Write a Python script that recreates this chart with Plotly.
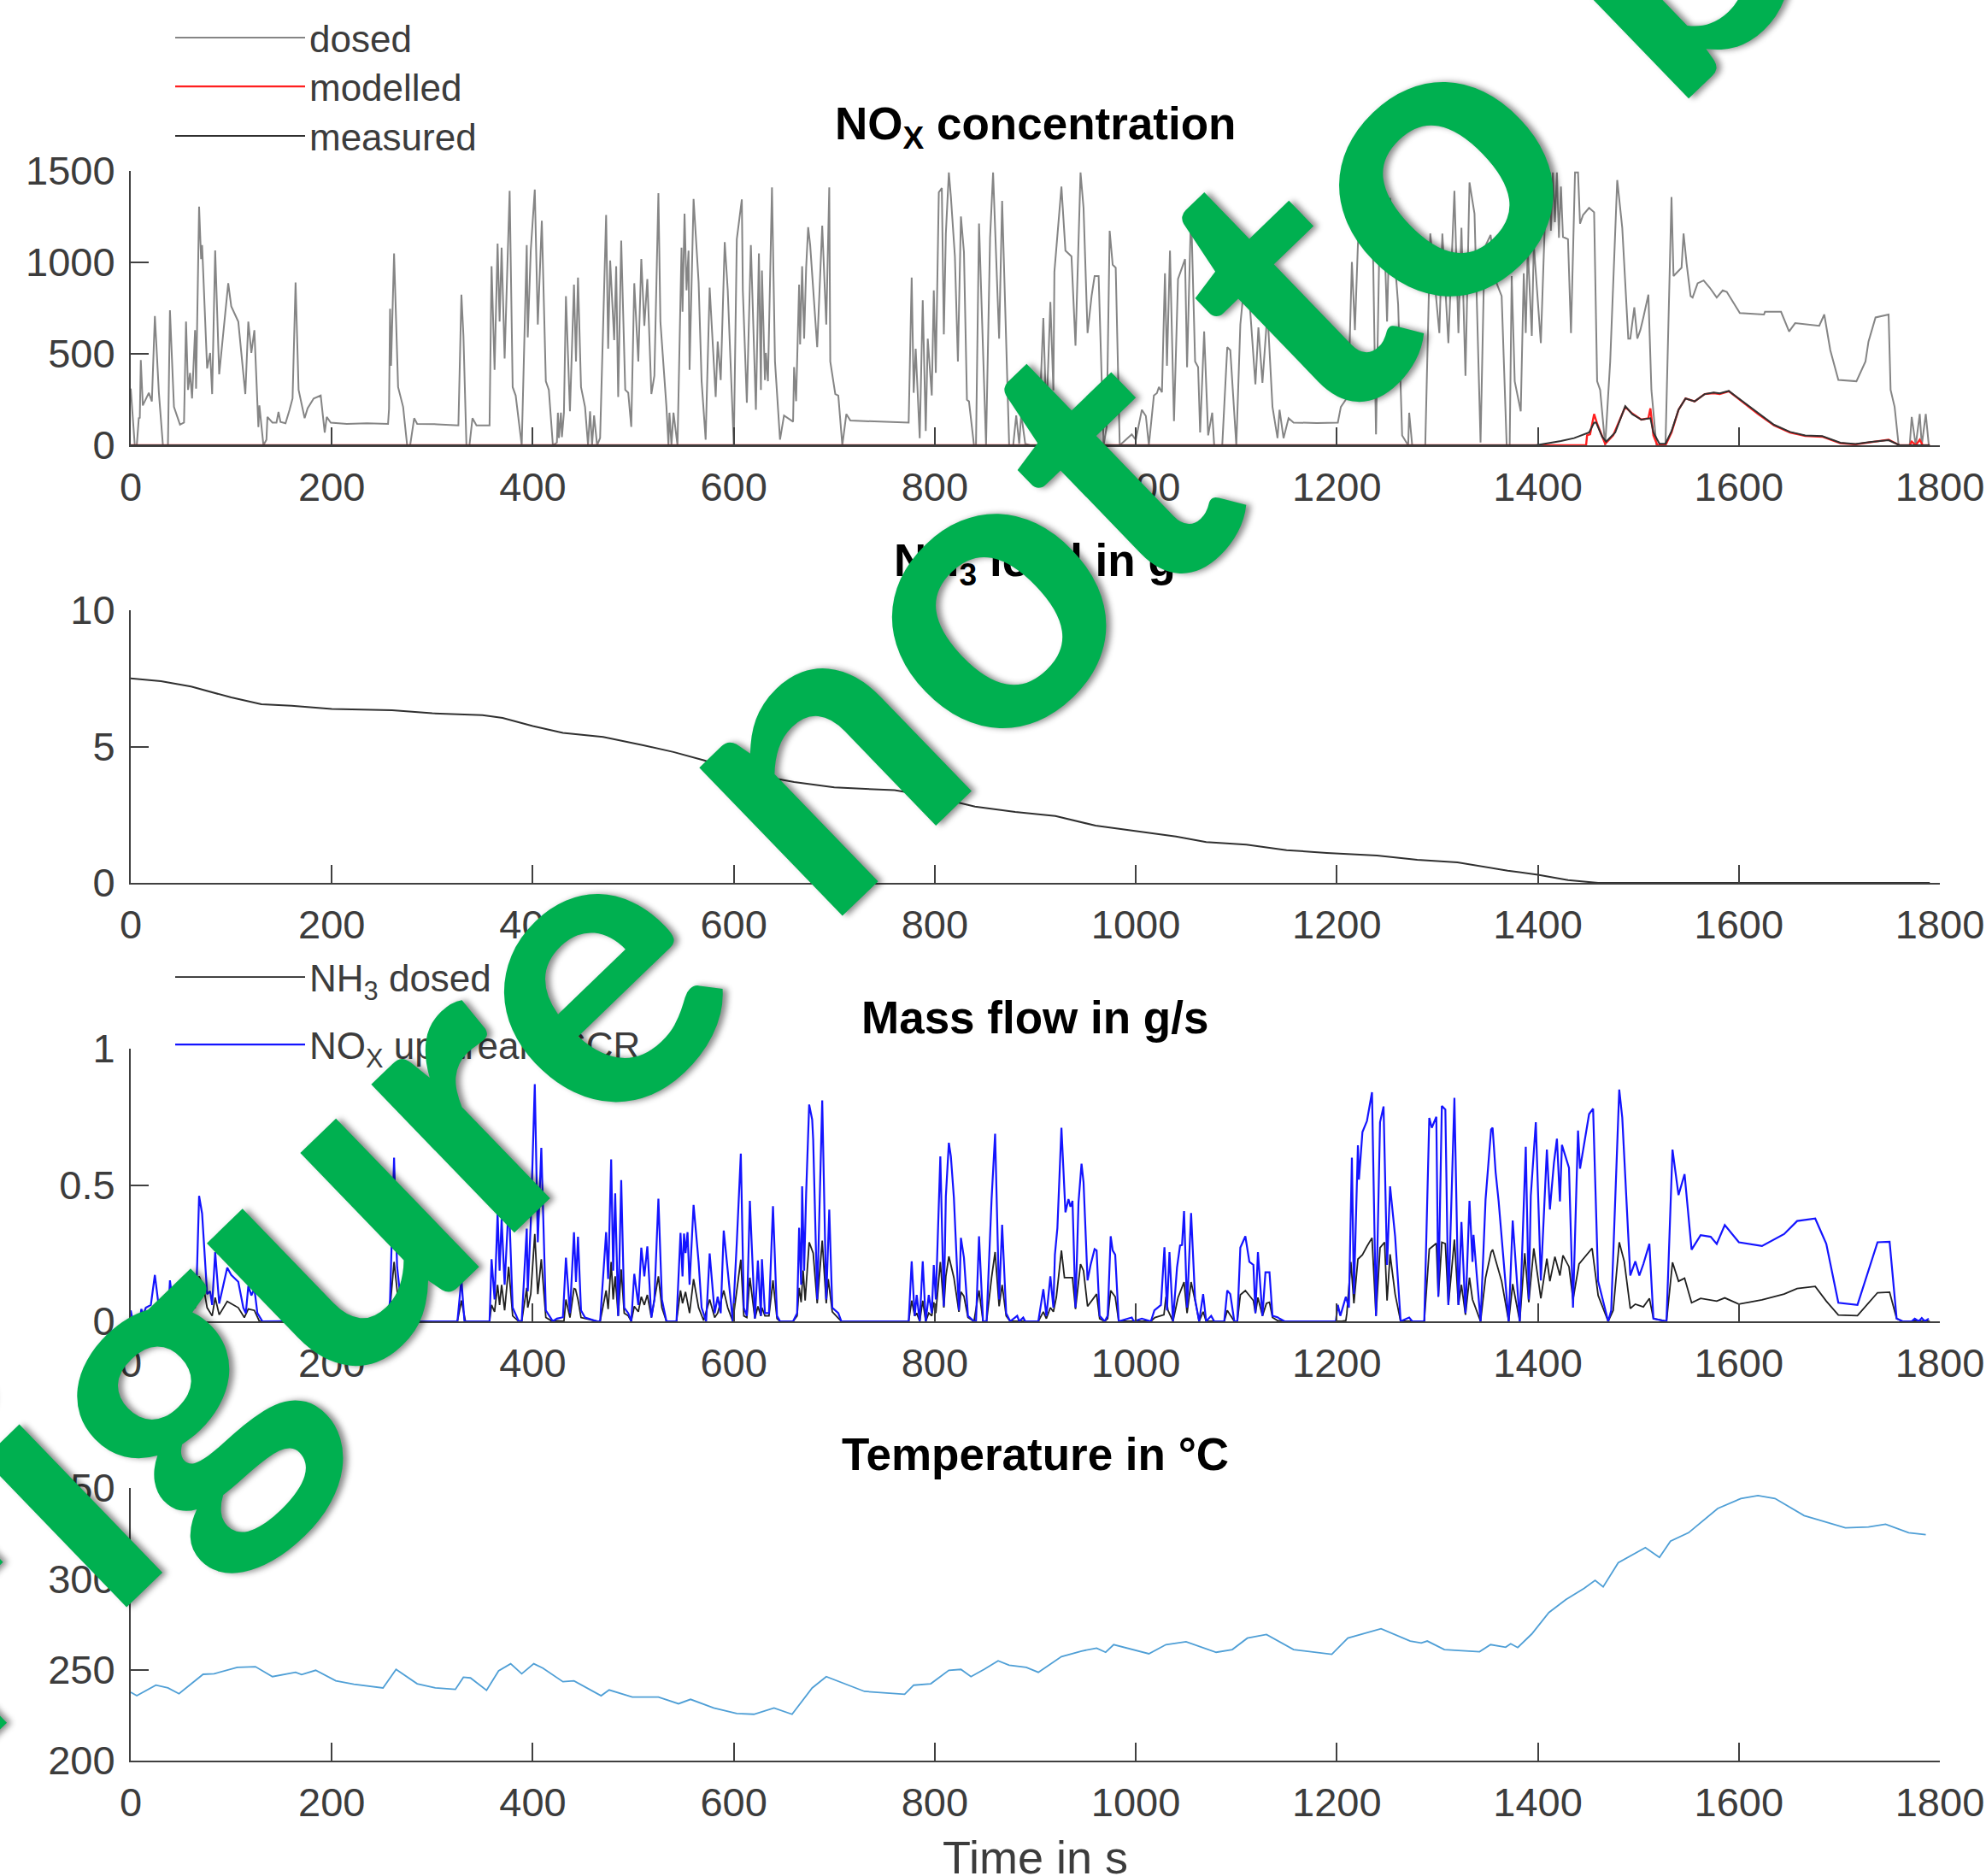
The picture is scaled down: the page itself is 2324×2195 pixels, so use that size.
import plotly.graph_objects as go

# ---------- tick labels / categories ----------
x_ticks = [0, 200, 400, 600, 800, 1000, 1200, 1400, 1600, 1800]
y1_ticks = [0, 500, 1000, 1500]
y2_ticks = [0, 5, 10]
y3_ticks = [0, 0.5, 1]
y3_labels = ["0", "0.5", "1"]
y4_ticks = [200, 250, 300, 350]

# ---------- NOx concentration: dosed (t, value) ----------
nox_dosed = [(0,310),(4,0),(6,0),(8,148),(9,150),(10,466),(12,218),(18,287),(21,240),(24,707),(28,287),(32,0),(37,0),(39,738),(43,210),(49,113),(53,124),(55,676),(57,303),(59,396),(61,256),(64,629),(65,310),(68,1305),(70,1018),(71,1095),(76,420),(79,505),(81,280),(84,1065),(88,388),(97,886),(100,760),(107,676),(114,280),(117,676),(120,505),(123,629),(127,100),(128,218),(132,0),(135,30),(136,155),(141,124),(145,124),(147,182),(149,128),(154,120),(158,194),(161,256),(164,890),(167,303),(173,148),(176,202),(182,256),(189,272),(193,70),(195,155),(199,124),(215,117),(235,120),(256,117),(257,200),(258,746),(259,435),(262,1049),(266,318),(271,210),(275,0),(278,0),(282,148),(285,117),(305,115),(326,109),(329,823),(331,600),(334,0),(337,0),(340,148),(344,109),(357,109),(359,979),(362,412),(365,1103),(367,676),(369,1080),(372,474),(375,1095),(377,1391),(380,318),(383,272),(389,0),(394,1095),(395,590),(398,1064),(402,1398),(405,660),(409,1228),(413,350),(416,303),(420,0),(424,15),(425,178),(426,40),(428,178),(429,45),(431,178),(433,815),(437,186),(441,878),(443,458),(445,917),(448,318),(452,210),(455,0),(457,186),(459,0),(461,163),(464,0),(467,40),(473,1259),(475,528),(477,1010),(481,575),(483,979),(485,264),(488,1119),(492,303),(495,287),(498,101),(501,886),(505,458),(508,1018),(511,653),(514,909),(518,280),(521,380),(525,1378),(527,676),(533,210),(535,0),(536,178),(538,0),(540,178),(544,0),(548,1080),(549,730),(551,1266),(553,847),(555,1064),(556,412),(560,1347),(565,893),(568,350),(572,31),(576,862),(582,264),(584,567),(587,357),(591,1111),(594,847),(600,0),(603,1127),(608,1344),(609,847),(613,233),(617,1095),(622,194),(625,1049),(627,303),(628,956),(631,357),(632,505),(634,350),(638,1410),(641,458),(646,31),(650,163),(659,129),(660,427),(662,241),(665,878),(666,552),(668,979),(670,583),(672,971),(674,1192),(676,1095),(683,536),(688,1201),(692,660),(695,1410),(696,458),(701,280),(704,272),(708,0),(712,171),(716,135),(745,128),(774,124),(777,917),(779,287),(781,528),(785,39),(788,793),(791,78),(793,583),(797,272),(799,847),(801,396),(804,1383),(807,1406),(809,606),(811,1158),(814,1492),(816,1360),(820,1033),(823,458),(826,1251),(829,1057),(832,249),(834,240),(839,0),(841,0),(844,1212),(851,0),(855,1134),(858,1492),(864,583),(867,1336),(874,0),(878,0),(881,163),(884,8),(886,171),(890,8),(895,0),(903,0),(908,696),(911,150),(915,784),(918,300),(919,948),(926,1414),(930,1064),(936,1033),(940,544),(945,1492),(948,1298),(952,614),(956,816),(959,925),(963,925),(968,0),(971,100),(974,1173),(977,987),(980,971),(984,0),(996,60),(1000,30),(1006,194),(1010,160),(1013,0),(1018,272),(1021,285),(1023,319),(1026,290),(1029,940),(1031,435),(1034,1064),(1038,132),(1042,909),(1049,1018),(1051,427),(1055,1290),(1059,458),(1062,427),(1064,70),(1068,622),(1072,54),(1076,178),(1078,0),(1086,0),(1091,536),(1094,520),(1100,0),(1104,660),(1110,1000),(1113,800),(1119,333),(1122,645),(1126,342),(1131,730),(1136,210),(1141,39),(1143,194),(1147,39),(1152,148),(1157,124),(1180,122),(1201,124),(1204,210),(1209,250),(1212,400),(1215,1002),(1218,630),(1221,1100),(1225,1300),(1230,1340),(1235,1400),(1239,60),(1243,1300),(1246,1380),(1250,676),(1253,1352),(1261,770),(1265,54),(1271,0),(1272,178),(1275,0),(1288,0),(1293,1158),(1302,614),(1305,1158),(1311,559),(1317,1391),(1321,614),(1324,1189),(1328,380),(1332,1437),(1337,1266),(1343,15),(1347,1080),(1353,1150),(1358,900),(1364,816),(1369,0),(1372,0),(1374,925),(1377,350),(1383,186),(1386,940),(1388,614),(1390,1080),(1394,598),(1396,1095),(1403,559),(1407,1220),(1409,1492),(1410,1266),(1412,1492),(1413,1173),(1415,1492),(1417,1220),(1419,1492),(1421,1134),(1423,1414),(1425,1139),(1430,1127),(1433,614),(1437,1492),(1440,1492),(1442,1212),(1445,1259),(1451,1298),(1456,1274),(1459,350),(1462,303),(1467,0),(1472,458),(1479,1450),(1484,1189),(1490,583),(1492,583),(1496,754),(1499,583),(1502,630),(1505,699),(1510,824),(1513,303),(1518,0),(1527,0),(1533,1357),(1535,925),(1543,971),(1545,1158),(1548,995),(1552,816),(1554,808),(1559,886),(1565,901),(1571,862),(1578,808),(1584,847),(1588,839),(1601,723),(1625,715),(1626,730),(1642,730),(1650,622),(1656,668),(1680,653),(1685,715),(1691,520),(1699,357),(1717,350),(1726,458),(1729,567),(1736,699),(1749,715),(1751,303),(1755,210),(1759,0),(1770,0),(1772,155),(1776,0),(1780,171),(1782,0),(1786,171),(1789,0)]

nox_modelled = [(0,0),(1448,0),(1449,54),(1452,60),(1456,171),(1459,118),(1467,8),(1475,54),(1487,210),(1493,178),(1503,140),(1510,148),(1512,202),(1515,54),(1519,0),(1527,0),(1533,70),(1540,194),(1547,256),(1556,240),(1566,280),(1575,285),(1581,280),(1590,295),(1601,249),(1619,171),(1635,109),(1651,70),(1666,51),(1683,47),(1701,11),(1716,5),(1730,16),(1749,31),(1757,8),(1760,0),(1770,0),(1772,20),(1776,0),(1780,30),(1783,0),(1790,0)]

nox_measured = [(0,0),(1398,0),(1423,23),(1436,39),(1451,70),(1456,124),(1458,124),(1464,47),(1468,20),(1477,70),(1487,214),(1494,170),(1503,140),(1512,148),(1515,70),(1521,8),(1527,8),(1533,77),(1540,194),(1547,256),(1556,240),(1566,280),(1575,288),(1581,284),(1590,297),(1601,252),(1619,175),(1635,112),(1651,73),(1666,54),(1683,50),(1701,14),(1716,7),(1730,18),(1749,28),(1757,6),(1760,0),(1790,0)]

# ---------- NH3 load ----------
nh3_load = [(0,7.5),(30,7.4),(60,7.2),(100,6.8),(130,6.55),(160,6.5),(200,6.38),(260,6.33),(300,6.22),(350,6.15),(370,6.05),(400,5.75),(430,5.5),(470,5.35),(510,5.05),(540,4.8),(570,4.5),(600,4.15),(630,3.9),(660,3.7),(700,3.5),(760,3.4),(800,3.15),(840,2.8),(880,2.6),(920,2.45),(960,2.1),(1000,1.9),(1040,1.7),(1070,1.5),(1110,1.4),(1150,1.2),(1190,1.1),(1240,1.0),(1280,0.85),(1320,0.75),(1370,0.45),(1400,0.3),(1430,0.1),(1460,0),(1790,0)]

# ---------- Mass flow ----------
nox_upstream = [(0,0.04),(2,0),(9,0),(10.5,0.045),(12.5,0.025),(15,0.05),(20,0.06),(24,0.17),(28,0.05),(32,0),(37,0),(39,0.15),(41,0.09),(45,0.04),(50,0.03),(55,0.13),(58,0.06),(61,0.05),(64,0.13),(65,0.07),(68,0.46),(71,0.395),(76,0.10),(79,0.11),(81,0.06),(84,0.254),(88,0.065),(96,0.197),(100,0.17),(107,0.145),(112,0.05),(114.5,0.03),(117,0.13),(120,0.095),(123,0.12),(126,0.03),(131,0),(200,0.002),(256,0),(258,0.08),(262,0.6),(265,0.2),(270,0.03),(275,0),(325,0),(329,0.155),(332,0),(357,0),(359,0.228),(362,0.08),(365,0.395),(367,0.186),(369,0.375),(372,0.134),(375,0.354),(377,0.36),(380,0.05),(386,0),(389,0),(394,0.34),(395,0.11),(398,0.36),(402,0.87),(405,0.29),(408.5,0.636),(413,0.04),(416.5,0.02),(420,0),(424,0.01),(430,0.015),(433,0.233),(437,0.03),(441,0.327),(443,0.144),(445,0.31),(448,0.04),(452,0.014),(464,0),(467,0),(473,0.327),(475,0.155),(478,0.594),(480,0.186),(482,0.469),(485,0.02),(488,0.518),(491,0.05),(495,0.03),(498,0),(501,0.174),(505,0.06),(508,0.27),(511,0.165),(514,0.275),(518,0.014),(521,0.08),(525,0.45),(528.5,0.08),(533,0),(543,0),(547,0.324),(549,0.165),(550.5,0.322),(552,0.25),(554,0.327),(556,0.134),(560,0.427),(565,0.218),(568,0.05),(572.5,0),(576,0.249),(581,0.03),(584,0.09),(587,0.03),(590,0.333),(594,0.186),(599,0),(603,0.29),(607,0.615),(610,0.05),(613,0.02),(616,0.442),(621,0.01),(624,0.223),(627,0.02),(628,0.228),(631,0.03),(635,0.03),(639,0.422),(643,0.02),(646,0),(659,0),(663,0.03),(665,0.343),(667,0.134),(668,0.495),(670,0.186),(672,0.469),(675,0.795),(678,0.74),(679,0.667),(683,0.08),(688,0.81),(692,0.08),(695,0.41),(698,0.05),(704,0.03),(707,0),(774,0),(777,0.22),(780,0.02),(782,0.097),(785,0),(788,0.22),(791,0),(794,0.097),(797,0.03),(799,0.207),(801,0.08),(805.5,0.605),(809,0.055),(811,0.458),(814,0.655),(816,0.605),(819,0.453),(824,0.04),(826,0.306),(829,0.233),(833,0.02),(839,0),(841,0),(844,0.312),(848,0),(851.5,0),(856.5,0.448),(860,0.688),(864,0.08),(867,0.354),(871,0.03),(875,0),(882,0.02),(884,0),(888,0.014),(890,0),(903,0),(908,0.118),(911,0.02),(915,0.165),(918,0.05),(919.5,0.244),(922,0.343),(926,0.71),(930,0.40),(933,0.448),(935,0.42),(937,0.442),(940,0.05),(943,0.437),(946,0.578),(948,0.51),(952,0.15),(955,0.207),(959,0.265),(961,0.26),(964,0.02),(969,0),(972,0.02),(975,0.312),(977,0.26),(979.5,0.244),(983,0),(996,0.014),(998,0),(1006,0.01),(1015,0),(1018.5,0.04),(1025,0.06),(1028.5,0.272),(1031,0.04),(1033.5,0.254),(1037,0),(1041,0.197),(1044,0.278),(1046,0.28),(1048,0.404),(1051,0.05),(1055,0.397),(1059,0.08),(1063,0),(1067,0.10),(1070,0),(1075,0.02),(1078,0),(1088,0),(1091,0.113),(1094,0.10),(1098,0),(1101,0),(1104,0.27),(1109,0.312),(1113,0.218),(1117,0.207),(1119,0.03),(1121.5,0.254),(1126,0.02),(1129,0.18),(1133,0.18),(1136,0.02),(1141,0.015),(1143,0.01),(1148,0),(1199,0),(1201,0.06),(1203.5,0.02),(1209,0.09),(1212,0.05),(1215,0.6),(1217,0.10),(1221,0.646),(1222,0.52),(1225.5,0.694),(1230,0.735),(1235,0.84),(1239,0.02),(1243,0.73),(1246.5,0.788),(1250,0.207),(1253,0.495),(1258,0.312),(1263.5,0),(1272,0.014),(1275,0),(1287,0),(1292,0.746),(1294.5,0.71),(1299,0.75),(1301,0.09),(1304.5,0.79),(1308,0.777),(1311,0.06),(1317,0.82),(1321,0.06),(1324,0.364),(1328,0.03),(1332,0.442),(1335,0.218),(1336,0.317),(1343,0),(1348,0.448),(1353.5,0.704),(1355,0.71),(1358,0.547),(1361,0.44),(1371,0),(1375,0.37),(1382,0),(1388,0.64),(1391,0.08),(1393,0.46),(1398,0.73),(1403,0.15),(1409,0.63),(1412,0.41),(1416,0.58),(1419,0.67),(1422,0.44),(1424,0.647),(1431,0.563),(1435,0.05),(1440,0.70),(1442,0.56),(1451,0.76),(1455,0.78),(1460,0.147),(1470,0),(1473,0.04),(1481,0.85),(1484,0.747),(1492,0.168),(1497,0.22),(1501,0.168),(1505,0.21),(1511,0.284),(1515,0.01),(1528,0),(1534,0.63),(1540,0.463),(1546,0.54),(1553,0.263),(1562,0.316),(1572,0.31),(1578,0.284),(1586,0.353),(1600,0.29),(1623,0.276),(1645,0.32),(1658,0.368),(1676,0.377),(1687,0.284),(1699,0.068),(1718,0.06),(1738,0.29),(1750,0.292),(1757,0.01),(1763,0),(1772,0),(1775,0.01),(1779,0),(1782,0.012),(1785,0),(1789,0.01)]

nh3_dosed = [(0,0),(39,0),(41,0.04),(50,0.02),(55,0.05),(64,0.05),(68,0.165),(72,0.134),(76,0.05),(81,0.02),(84,0.087),(88,0.024),(96,0.073),(107,0.05),(113,0.014),(117,0.045),(123,0.04),(128,0),(256,0),(258,0.05),(262,0.218),(266,0.08),(275,0),(325,0),(329,0.076),(333,0),(357,0),(359,0.06),(362,0.035),(365,0.134),(367,0.06),(369,0.134),(372,0.04),(376,0.20),(380,0.02),(385,0.003),(389,0),(394,0.123),(395,0.05),(398,0.10),(402,0.32),(405,0.10),(408.5,0.228),(413,0.014),(418,0.003),(431,0),(433,0.08),(437,0.014),(441,0.12),(442.5,0.118),(445,0.08),(448,0.014),(464,0),(467,0),(473,0.113),(475,0.045),(478,0.218),(480,0.08),(482,0.165),(485,0.02),(488,0.19),(491,0.03),(495,0.02),(498,0),(501,0.055),(505,0.035),(508,0.09),(511,0.06),(514,0.097),(518,0.014),(525,0.165),(528.5,0.05),(533,0),(543,0),(547,0.113),(549,0.066),(552,0.108),(556,0.03),(560,0.155),(565,0.05),(570,0.003),(576,0.08),(581,0.014),(584,0.03),(590,0.113),(594,0.05),(599,0),(603,0.12),(607,0.226),(610,0.02),(613,0.014),(616,0.16),(621,0.01),(624,0.055),(627,0.02),(628,0.05),(631,0.02),(635,0.02),(639,0.15),(643,0.01),(646,0),(659,0),(663,0.02),(665,0.123),(667,0.07),(669,0.186),(671,0.076),(675,0.29),(679,0.25),(683,0.066),(688,0.296),(692,0.066),(694,0.155),(698,0.035),(704,0.01),(707,0),(774,0),(777,0.076),(780,0.02),(782,0.03),(785,0),(788,0.076),(791,0),(794,0.03),(797,0.02),(799,0.07),(801,0.03),(805.5,0.218),(809,0.05),(811,0.165),(814,0.238),(819,0.16),(824,0.035),(826,0.108),(829,0.092),(833,0.014),(839,0),(844,0.113),(848,0),(851.5,0),(856.5,0.16),(860,0.254),(864,0.055),(867,0.134),(871,0.02),(875,0),(903,0),(908,0.035),(911,0.01),(915,0.05),(918,0.035),(921,0.09),(926,0.26),(929,0.16),(937,0.16),(940,0.045),(945,0.21),(948,0.185),(952,0.055),(961,0.10),(964,0.01),(969,0),(972,0.01),(975,0.113),(979.5,0.09),(983,0),(1015,0),(1019,0.014),(1028,0.024),(1030,0.09),(1032,0.04),(1037,0),(1042,0.087),(1048,0.144),(1051,0.03),(1055,0.144),(1059,0.076),(1063,0),(1067,0.035),(1070,0),(1088,0),(1091,0.04),(1098,0),(1101,0),(1104,0.097),(1109,0.113),(1117,0.076),(1119,0.03),(1121.5,0.087),(1126,0.02),(1130,0.066),(1133,0.07),(1136,0.014),(1141,0.003),(1148,0),(1205,0),(1209,0.003),(1210,0.03),(1214,0.218),(1217,0.066),(1221,0.228),(1225.5,0.244),(1230,0.275),(1235,0.306),(1239,0.02),(1243,0.27),(1247.5,0.29),(1250,0.076),(1253,0.246),(1258,0.10),(1263.5,0),(1287,0),(1292,0.265),(1299,0.286),(1301,0.09),(1304.5,0.29),(1308,0.285),(1311,0.06),(1317,0.30),(1321,0.06),(1324,0.134),(1328,0.024),(1332,0.16),(1335,0.08),(1343,0),(1348,0.16),(1353.5,0.254),(1355,0.263),(1364,0.147),(1371,0),(1375,0.137),(1382,0),(1387,0.25),(1391,0.07),(1396,0.268),(1403,0.084),(1409,0.23),(1412,0.147),(1417,0.237),(1422,0.168),(1425,0.242),(1431,0.2),(1435,0.08),(1441,0.21),(1454,0.268),(1460,0.095),(1470,0),(1475,0.04),(1481,0.29),(1486,0.22),(1492,0.047),(1497,0.063),(1505,0.053),(1511,0.084),(1515,0.01),(1528,0),(1534,0.216),(1540,0.147),(1546,0.158),(1553,0.068),(1562,0.084),(1578,0.074),(1586,0.086),(1600,0.063),(1623,0.079),(1645,0.10),(1658,0.12),(1676,0.128),(1687,0.074),(1699,0.023),(1718,0.021),(1738,0.105),(1750,0.107),(1757,0.01),(1763,0),(1790,0)]

# ---------- Temperature ----------
temperature = [(0,237.6),(6,235.7),(25,241.5),(37,240),(48,236.8),(72,247.5),(83,247.8),(106,251.3),(124,251.7),(141,246.2),(164,248.6),(170,247.3),(184,249.7),(204,243.9),(222,242),(251,240),(264,250.2),(285,242.3),(303,240),(323,239.2),(331,245.9),(338,245.5),(354,238.7),(366,249.4),(378,253.3),(389,247.8),(401,253.3),(410,250.9),(430,243.4),(441,243.9),(468,235.7),(476,238.9),(499,235),(525,235),(545,231.3),(557,233.7),(580,229),(603,225.9),(620,225.5),(640,229),(658,225.5),(678,240),(692,246.2),(730,238.1),(770,236.5),(779,241.5),(796,242.3),(814,249.7),(826,250.2),(836,246.2),(849,250.2),(863,254.9),(874,252.5),(891,251.3),(903,248.6),(926,257.2),(946,260.3),(961,261.9),(970,259.6),(978,263.8),(1013,258.8),(1030,263.8),(1050,265.4),(1080,259.6),(1096,261.1),(1111,267.4),(1130,269.4),(1157,261.1),(1195,258.5),(1211,267.4),(1244,272.6),(1273,265.8),(1284,264.7),(1290,265.8),(1307,261.1),(1342,259.9),(1353,263.8),(1368,262.4),(1373,264.3),(1380,262.2),(1394,269.7),(1411,281.5),(1428,288.6),(1446,294.8),(1457,299.2),(1465,295.6),(1480,308.9),(1507,317.2),(1521,311.8),(1532,320.7),(1550,325.4),(1579,338.7),(1602,344.2),(1619,345.8),(1636,344.2),(1665,334.8),(1706,328.1),(1729,328.5),(1746,330.1),(1769,325.4),(1786,324.3)]

W, H = 2324, 2195
TICK_FONT = dict(family="Liberation Sans", size=47, color="#3c3c3c")
AX = "#404040"


def unzip(points):
    return [p[0] for p in points], [p[1] for p in points]


def ypaper(px):
    return 1 - px / H


fig = go.Figure()


def add(points, name, color, width, axis, legend=None):
    xs, ys = unzip(points)
    fig.add_trace(go.Scatter(
        x=xs, y=ys, mode="lines", name=name,
        line=dict(color=color, width=width),
        xaxis="x" + axis, yaxis="y" + axis,
        showlegend=legend is not None,
        legend=legend or "legend",
    ))


add(nox_dosed, "dosed", "#858585", 2, "", "legend")
add(nox_modelled, "modelled", "#ff2020", 2.4, "", "legend2")
add(nox_measured, "measured", "#303030", 2, "", "legend3")
add(nh3_load, "NH3 load", "#303030", 2, "2")
add(nh3_dosed, "NH<sub>3</sub> dosed", "#202020", 1.8, "3", "legend4")
add(nox_upstream, "NO<sub>X</sub> upstream SCR", "#1414ff", 2.2, "3", "legend5")
add(temperature, "Temperature", "#4f9fd6", 1.8, "4")

panels = [("", 200, 521, [0, 1500], y1_ticks, [str(v) for v in y1_ticks]),
          ("2", 714, 1033, [0, 10], y2_ticks, [str(v) for v in y2_ticks]),
          ("3", 1227, 1546, [0, 1], y3_ticks, y3_labels),
          ("4", 1741, 2060, [200, 350], y4_ticks, [str(v) for v in y4_ticks])]

layout = {}
for suffix, top, bottom, yrange, yticks, ylabels in panels:
    common = dict(showgrid=False, zeroline=False, showline=True, linecolor=AX,
                  linewidth=2, ticks="inside", tickcolor=AX, tickwidth=2,
                  ticklen=21, tickfont=TICK_FONT)
    layout["xaxis" + suffix] = dict(
        domain=[153 / W, 2270 / W], range=[0, 1800], anchor="y" + suffix,
        tickmode="array", tickvals=x_ticks, ticktext=[str(v) for v in x_ticks],
        ticklabelstandoff=7, **common)
    layout["yaxis" + suffix] = dict(
        domain=[ypaper(bottom), ypaper(top)], range=yrange, anchor="x" + suffix,
        tickmode="array", tickvals=yticks, ticktext=ylabels,
        ticklabelstandoff=7, **common)

LEG_FONT = dict(family="Liberation Sans", size=44, color="#3c3c3c")
legend_tops = {"legend": 9, "legend2": 66, "legend3": 124, "legend4": 1108, "legend5": 1187}
for name, top in legend_tops.items():
    layout[name] = dict(x=200 / W, xanchor="left", y=ypaper(top), yanchor="top",
                        bgcolor="rgba(0,0,0,0)", font=LEG_FONT, itemwidth=152)

titles = [("<b>NO<sub>X</sub> concentration</b>", 148),
          ("<b>NH<sub>3</sub> load in g</b>", 659),
          ("<b>Mass flow in g/s</b>", 1190),
          ("<b>Temperature in °C</b>", 1701)]
annotations = [dict(text=t, x=1211 / W, y=ypaper(py), xref="paper", yref="paper",
                    showarrow=False, xanchor="center", yanchor="middle",
                    font=dict(family="Liberation Sans", size=53, color="#000000"))
               for t, py in titles]
annotations.append(dict(text="Time in s", x=1211 / W, y=ypaper(2173), xref="paper",
                        yref="paper", showarrow=False, xanchor="center",
                        yanchor="middle",
                        font=dict(family="Liberation Sans", size=54, color="#3c3c3c")))
annotations.append(dict(text="<b>Figure not to be</b>", x=1005 / W, y=ypaper(800),
                        xref="paper", yref="paper", showarrow=False, textangle=-44,
                        xanchor="center", yanchor="middle",
                        font=dict(family="Lato", size=470, color="#00b050",
                                  shadow="4px 4px 7px rgba(0,0,0,0.45)")))

fig.update_layout(width=W, height=H, margin=dict(l=0, r=0, t=0, b=0, autoexpand=False),
                  paper_bgcolor="white", plot_bgcolor="white",
                  annotations=annotations, **layout)
fig.write_html("out.html", config={"displayModeBar": False},
               post_script="document.body.style.margin='0';document.documentElement.style.overflow='hidden';")
